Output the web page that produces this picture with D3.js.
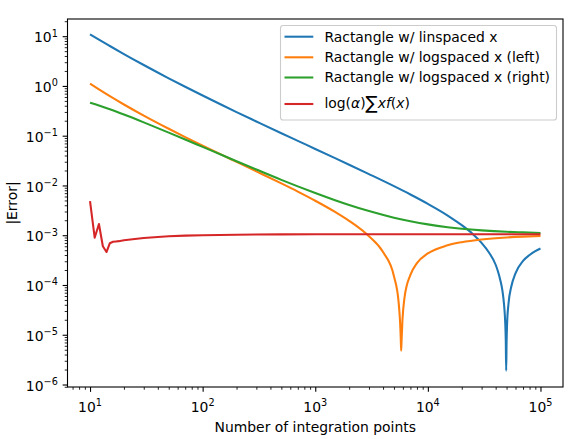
<!DOCTYPE html>
<html><head><meta charset="utf-8">
<script src="https://cdn.jsdelivr.net/npm/d3@7"></script>
<style>body{margin:0;background:#fff}svg{display:block;font-family:"DejaVu Sans",sans-serif}</style>
</head><body><svg id="c" width="576" height="439"></svg>
<script>
// ---- data ----
const blueN = [10,12,15,20,30,50,70,100,150,200,300,500,700,1000,1500,2000,3000,5000,7000,10000,15000,20000,25000,30000,35000,40000,42000,44000,46000,47500,48500,49200,49600,50000,50500,52000,55000,60000,70000,80000,90000,100000];
const blueErr = [10.9,8.52,6.35,4.37,2.63,1.42,0.961,0.641,0.408,0.298,0.193,0.112,0.0787,0.0542,0.0354,0.0261,0.0169,0.00967,0.00658,0.00427,0.00249,0.00159,0.00106,7.0e-4,4.45e-4,2.55e-4,1.85e-4,1.25e-4,7.5e-5,4.0e-5,2.0e-5,7.5e-6,1.9e-6,7.0e-6,1.6e-5,4.2e-5,9.2e-5,1.72e-4,3.05e-4,4.0e-4,4.8e-4,5.4e-4];

const orangeN = [10,12,15,20,30,50,70,100,150,200,300,500,700,1000,1500,2000,3000,4000,5000,5500,5650,5740,5790,5840,5950,6200,7000,8000,10000,15000,20000,30000,50000,70000,100000];
const orangeErr = [1.109,0.852,0.623,0.424,0.2535,0.1378,0.0939,0.0632,0.0406,0.0298,0.0192,0.01099,0.00752,0.00493,0.002936,0.001943,0.000952,0.000458,1.5e-4,4.5e-5,2.0e-5,9.0e-6,4.8e-6,7.5e-6,2.0e-5,5.5e-5,1.6e-4,2.75e-4,4.3e-4,6.27e-4,7.25e-4,8.23e-4,9.02e-4,9.36e-4,9.61e-4];

const greenN = [10,12,15,20,30,50,70,100,150,200,300,500,700,1000,1500,2000,3000,5000,7000,10000,15000,20000,30000,50000,70000,100000];
const greenErr = [0.461,0.404,0.339,0.266,0.1854,0.1154,0.0839,0.0596,0.0404,0.0307,0.0209,0.01296,0.00959,0.00704,0.00505,0.00405,0.00305,0.00225,0.00191,0.00165,0.00145,0.00135,0.00125,0.00117,0.00114,0.00111];

const redN = [10,11,12,13,14,15,16,17,18,20,25,30,40,50,70,100,200,500,1000,10000,100000];
const redErr = [4.86e-3,8.9e-4,1.68e-3,6.0e-4,4.6e-4,6.9e-4,7.4e-4,7.5e-4,7.6e-4,7.9e-4,8.4e-4,8.8e-4,9.2e-4,9.5e-4,9.8e-4,1.0e-3,1.025e-3,1.04e-3,1.045e-3,1.05e-3,1.05e-3];

const legendLabels = ["Ractangle w/ linspaced x","Ractangle w/ logspaced x (left)","Ractangle w/ logspaced x (right)"];
const colors = ["#1f77b4","#ff7f0e","#2ca02c","#d62728"];

const xMajor = [10,100,1000,10000,100000];
const xExp = ["1","2","3","4","5"];
const yMajor = [1e-6,1e-5,1e-4,1e-3,1e-2,1e-1,1,10];
const yExp = ["\u22126","\u22125","\u22124","\u22123","\u22122","\u22121","0","1"];
const xTitle = "Number of integration points";
const yTitle = "|Error|";

// ---- layout ----
const svg = d3.select("#c");
svg.append("rect").attr("width",576).attr("height",439).attr("fill","#fff");
const L = 67.5, R = 563, T = 19, B = 387;
const FS = 13.9;
const x = d3.scaleLog().domain([Math.pow(10,0.8), Math.pow(10,5.2)]).range([L,R]);
const y = d3.scaleLog().domain([Math.pow(10,-6.05), Math.pow(10,1.345)]).range([B,T]);

function minors(dom){
  const out=[];
  for(let k=-8;k<=6;k++){ for(let m=2;m<=9;m++){ const v=m*Math.pow(10,k); if(v>=dom[0]&&v<=dom[1]) out.push(v);} }
  return out;
}

// axes
const gxMin = svg.append("g").attr("transform",`translate(0,${B})`)
  .call(d3.axisBottom(x).tickValues(minors(x.domain())).tickSize(2.78).tickFormat(()=>""));
const gx = svg.append("g").attr("transform",`translate(0,${B})`)
  .call(d3.axisBottom(x).tickValues(xMajor).tickSize(4.86).tickFormat(()=>""));
const gyMin = svg.append("g").attr("transform",`translate(${L},0)`)
  .call(d3.axisLeft(y).tickValues(minors(y.domain())).tickSize(2.78).tickFormat(()=>""));
const gy = svg.append("g").attr("transform",`translate(${L},0)`)
  .call(d3.axisLeft(y).tickValues(yMajor).tickSize(4.86).tickFormat(()=>""));
[gxMin,gx,gyMin,gy].forEach(g=>{ g.select(".domain").remove(); g.selectAll(".tick text").remove(); });
gx.selectAll(".tick line").attr("stroke","#000").attr("stroke-width",1.1);
gy.selectAll(".tick line").attr("stroke","#000").attr("stroke-width",1.1);
gxMin.selectAll(".tick line").attr("stroke","#000").attr("stroke-width",0.85);
gyMin.selectAll(".tick line").attr("stroke","#000").attr("stroke-width",0.85);

xMajor.forEach((v,i)=>{
  const t = svg.append("text").attr("x",x(v)).attr("y",412).attr("text-anchor","middle").attr("font-size",FS).attr("fill","#000");
  t.append("tspan").text("10");
  t.append("tspan").attr("dy",-5.8).attr("font-size",9.7).text(xExp[i]);
});
yMajor.forEach((v,i)=>{
  const t = svg.append("text").attr("x",57.8).attr("y",y(v)+6.2).attr("text-anchor","end").attr("font-size",FS).attr("fill","#000");
  t.append("tspan").text("10");
  t.append("tspan").attr("dy",-5.8).attr("font-size",9.7).text(yExp[i]);
});

svg.append("text").attr("x",(L+R)/2).attr("y",431.5).attr("text-anchor","middle").attr("font-size",FS).text(xTitle);
svg.append("text").attr("transform",`translate(17.3,${(T+B)/2}) rotate(-90)`).attr("text-anchor","middle").attr("font-size",FS).text(yTitle);

// ---- lines ----
const lineSmooth = d3.line().x(d=>x(d[0])).y(d=>y(d[1])).curve(d3.curveMonotoneX);
const lineLin = d3.line().x(d=>x(d[0])).y(d=>y(d[1]));
const series = [
  {pts:d3.zip(blueN,blueErr), gen:lineSmooth},
  {pts:d3.zip(orangeN,orangeErr), gen:lineSmooth},
  {pts:d3.zip(greenN,greenErr), gen:lineSmooth},
  {pts:d3.zip(redN,redErr), gen:lineLin}
];
svg.append("clipPath").attr("id","clip").append("rect").attr("x",L).attr("y",T).attr("width",R-L).attr("height",B-T);
const gl = svg.append("g").attr("clip-path","url(#clip)");
series.forEach((s,i)=>{
  gl.append("path").attr("d",s.gen(s.pts)).attr("fill","none").attr("stroke",colors[i])
    .attr("stroke-width",2.08).attr("stroke-linejoin","round").attr("stroke-linecap","butt");
});

// frame
svg.append("rect").attr("x",L).attr("y",T).attr("width",R-L).attr("height",B-T)
  .attr("fill","none").attr("stroke","#000").attr("stroke-width",1.1);

// ---- legend ----
const lg = svg.append("g");
lg.append("rect").attr("x",280.5).attr("y",25.5).attr("width",276).attr("height",94.5).attr("rx",2.8)
  .attr("fill","#fff").attr("fill-opacity",0.8).attr("stroke","#cccccc").attr("stroke-width",1.1);
const rows = [36.7,57.3,77.5,104];
rows.forEach((ry,i)=>{
  lg.append("line").attr("x1",284.5).attr("x2",313.3).attr("y1",ry).attr("y2",ry)
    .attr("stroke",colors[i]).attr("stroke-width",2.08);
});
legendLabels.forEach((lab,i)=>{
  lg.append("text").attr("x",324.4).attr("y",rows[i]+4.8).attr("font-size",FS).text(lab);
});
const mt = lg.append("text").attr("x",324.4).attr("y",rows[3]+4.4).attr("font-size",FS);
mt.append("tspan").text("log(");
mt.append("tspan").attr("font-style","italic").text("\u03b1");
mt.append("tspan").text(")");
mt.append("tspan").attr("font-size",18).attr("dy",0.7).text("\u2211");
mt.append("tspan").attr("dy",-0.7).attr("font-style","italic").text("xf");
mt.append("tspan").text("(");
mt.append("tspan").attr("font-style","italic").text("x");
mt.append("tspan").text(")");
</script></body></html>
